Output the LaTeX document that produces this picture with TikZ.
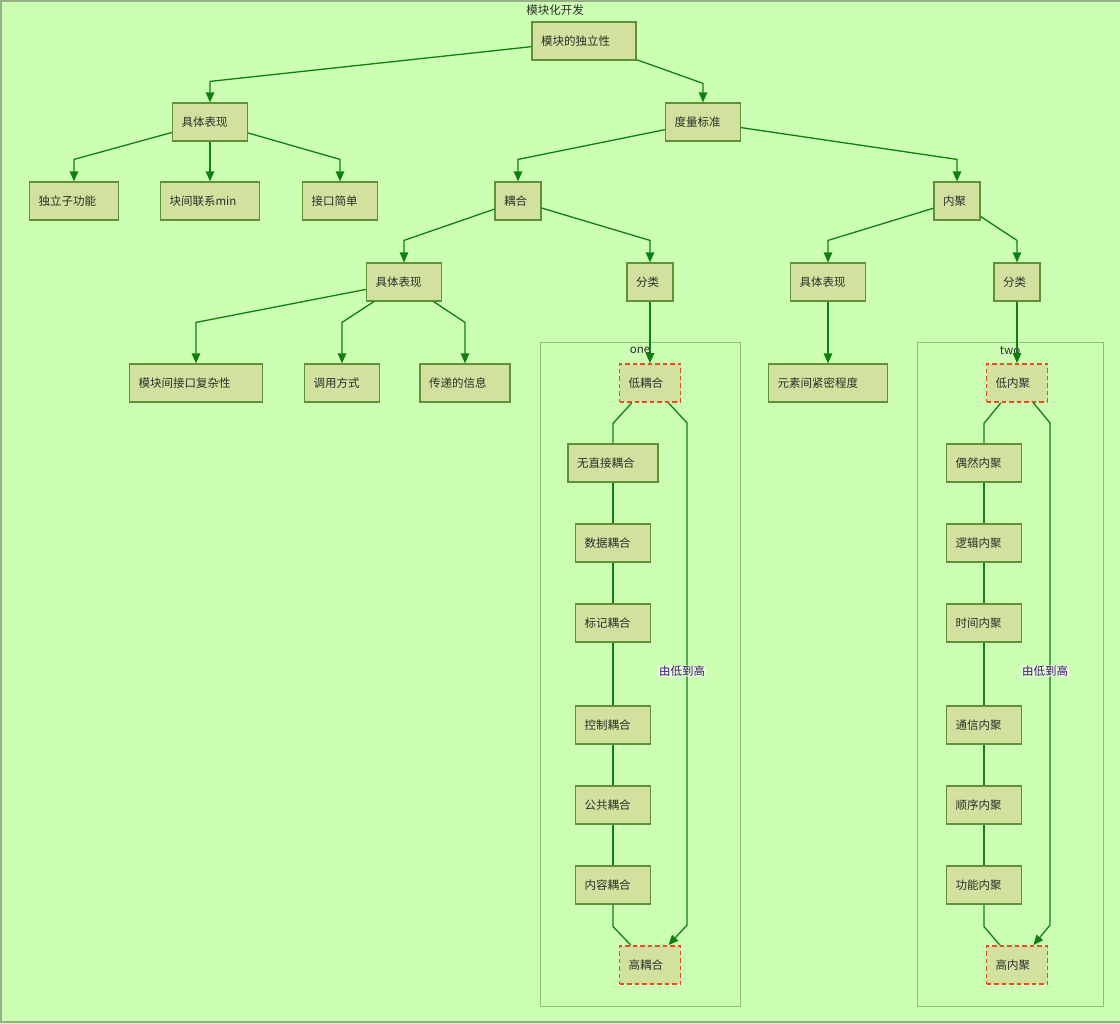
\documentclass[tikz,border=0pt]{standalone}
\usepackage{fontspec}
\newfontfamily\cjk{Noto Sans CJK SC}
\usetikzlibrary{positioning, arrows.meta}

\definecolor{bgcol}{RGB}{204,255,180}
\definecolor{boxfill}{RGB}{210,226,158}
\definecolor{boxline}{RGB}{95,145,55}
\definecolor{edgecol}{RGB}{15,128,15}
\definecolor{redline}{RGB}{235,75,35}
\definecolor{clusterline}{RGB}{140,195,110}
\definecolor{framecol}{RGB}{150,175,135}
\definecolor{txtcol}{RGB}{45,45,45}
\definecolor{lblcol}{RGB}{60,20,110}

\begin{document}
\begin{tikzpicture}[
          x=1pt, y=-1pt,
          every node/.style={font=\cjk\fontsize{11.5}{14}\selectfont, text=txtcol},
          box/.style={rectangle, draw=boxline, fill=boxfill, line width=1.2pt, minimum height=38pt, inner xsep=9pt, align=left, text width=#1},
          endbox/.style={box=#1, draw=redline, dash pattern=on 4.5pt off 3pt, line width=1.8pt},
          cluster/.style={rectangle, draw=clusterline, line width=1pt, inner sep=0pt},
          link/.style={draw=edgecol, line width=1.3pt, -{Triangle[length=10pt,width=8.5pt]}},
          chain/.style={draw=edgecol, line width=1.3pt},
          lbl/.style={fill=white, fill opacity=0.45, text opacity=1, text=lblcol, inner sep=1pt}
      ]
      
      \useasboundingbox (0,0) rectangle (1120,1024);
      \fill[bgcol] (0,0) rectangle (1120,1024);
      \draw[framecol, line width=1.2pt] (1120,1) -- (1,1) -- (1,1022) -- (1120,1022);
      \node (title) at (555,10) {模块化开发};
      
      % groups
      \node[cluster, minimum width=200pt, minimum height=663pt] (grp1) at (640,674.5) {};
      \node[anchor=north, inner sep=3pt, yshift=-1pt] (one) at (grp1.north) {one};
      \node[cluster, minimum width=186pt, minimum height=663pt] (grp2) at (1010,674.5) {};
      \node[anchor=north, inner sep=3pt, yshift=-1pt] (two) at (grp2.north) {two};
      
      \node[box=86pt] (root) at (584,41) {模块的独立性};
      
      \node[box=57pt] (show) at (210,122) {具体表现};
      \node[box=57pt] (measure) at (703,122) {度量标准};
      
      \node[box=71pt] (indep) at (74,201) {独立子功能};
      \node[box=81pt] (minlink) at (210,201) {块间联系min};
      \node[box=57pt] (simple) at (340,201) {接口简单};
      \node[box=28pt] (coup) at (518,201) {耦合};
      \node[box=28pt] (coh) at (957,201) {内聚};
      
      \node[box=57pt] (cshow) at (404,282) {具体表现};
      \node[box=28pt] (ckind) at (650,282) {分类};
      \node[box=57pt] (hshow) at (828,282) {具体表现};
      \node[box=28pt] (hkind) at (1017,282) {分类};
      
      \node[box=115pt] (iface) at (196,383) {模块间接口复杂性};
      \node[box=57pt] (call) at (342,383) {调用方式};
      \node[box=72pt] (info) at (465,383) {传递的信息};
      \node[box=101pt] (tight) at (828,383) {元素间紧密程度};
      
      \node[endbox=43pt] (lowc) at (650,383) {低耦合};
      \node[box=72pt] (c1) at (613,463) {无直接耦合};
      \node[box=57pt] (c2) at (613,543) {数据耦合};
      \node[box=57pt] (c3) at (613,623) {标记耦合};
      \node[box=57pt] (c4) at (613,725) {控制耦合};
      \node[box=57pt] (c5) at (613,805) {公共耦合};
      \node[box=57pt] (c6) at (613,885) {内容耦合};
      \node[endbox=43pt] (highc) at (650,965) {高耦合};
      
      \node[endbox=43pt] (lowh) at (1017,383) {低内聚};
      \node[box=57pt] (h1) at (984,463) {偶然内聚};
      \node[box=57pt] (h2) at (984,543) {逻辑内聚};
      \node[box=57pt] (h3) at (984,623) {时间内聚};
      \node[box=57pt] (h4) at (984,725) {通信内聚};
      \node[box=57pt] (h5) at (984,805) {顺序内聚};
      \node[box=57pt] (h6) at (984,885) {功能内聚};
      \node[endbox=43pt] (highh) at (1017,965) {高内聚};
      
      % tree edges
      \draw[link] (root) -- ([yshift=21pt]show.north) -- (show.north);
      \draw[link] (root) -- ([yshift=19pt]measure.north) -- (measure.north);
      \foreach \k in {indep,simple} {
          \draw[link] (show) -- ([yshift=22pt]\k.north) -- (\k.north);
      }
      \draw[link] (show) -- (minlink);
      \foreach \k in {coup,coh} {
          \draw[link] (measure) -- ([yshift=22pt]\k.north) -- (\k.north);
      }
      \foreach \k in {cshow,ckind} {
          \draw[link] (coup) -- ([yshift=22pt]\k.north) -- (\k.north);
      }
      \foreach \k in {hshow,hkind} {
          \draw[link] (coh) -- ([yshift=22pt]\k.north) -- (\k.north);
      }
      \foreach \k in {iface,call,info} {
          \draw[link] (cshow) -- ([yshift=41pt]\k.north) -- (\k.north);
      }
      \draw[link] (ckind) -- (lowc);
      \draw[link] (hshow) -- (tight);
      \draw[link] (hkind) -- (lowh);
      
      % coupling chain
      \draw[chain] (lowc) -- ([yshift=20pt]c1.north) -- (c1.north);
      \foreach \i/\j in {1/2,2/3,3/4,4/5,5/6} {
          \draw[chain] (c\i) -- (c\j);
      }
      \draw[chain] (c6.south) -- ([yshift=-22pt]c6.south) -- (highc);
      \draw[link] (lowc) -- ([xshift=37pt,yshift=-20pt]lowc.south)
          -- ([xshift=37pt,yshift=20pt]highc.north) node[midway, lbl, xshift=-5pt, yshift=3pt] (upc) {由低到高}
          -- (highc);
      
      % cohesion chain
      \draw[chain] (lowh) -- ([yshift=20pt]h1.north) -- (h1.north);
      \foreach \i/\j in {1/2,2/3,3/4,4/5,5/6} {
          \draw[chain] (h\i) -- (h\j);
      }
      \draw[chain] (h6.south) -- ([yshift=-22pt]h6.south) -- (highh);
      \draw[link] (lowh) -- ([xshift=33pt,yshift=-20pt]lowh.south)
          -- ([xshift=33pt,yshift=20pt]highh.north) node[midway, lbl, xshift=-5pt, yshift=3pt] (uph) {由低到高}
          -- (highh);
      
      \end{tikzpicture}
\end{document}
